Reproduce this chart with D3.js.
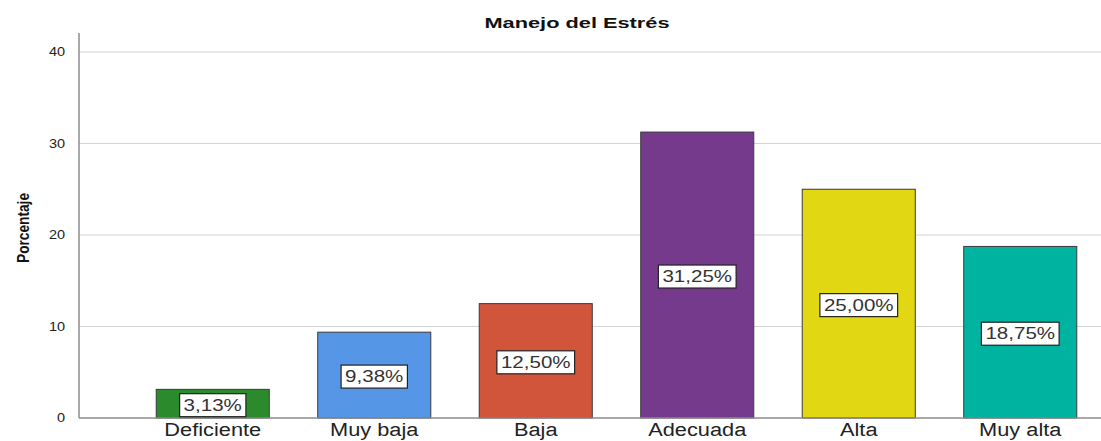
<!DOCTYPE html>
<html>
<head>
<meta charset="utf-8">
<script src="https://cdn.jsdelivr.net/npm/d3@7"></script>
<style>
  body { margin: 0; background: #fff; }
</style>
</head>
<body>
<div id="chart"></div>
<script>
// Data
const categories = ['Deficiente', 'Muy baja', 'Baja', 'Adecuada', 'Alta', 'Muy alta']
const percentages = [3.13, 9.38, 12.50, 31.25, 25.00, 18.75]
const barColors = ['#2b8a2b', '#5596e6', '#d1553a', '#763a8c', '#e1d712', '#00b3a0']
const yTicks = [0, 10, 20, 30, 40]

const width = 1101
const height = 441
const stretch = 1.21   // the original picture is a bit wider than tall

const svg = d3.select('#chart')
              .append('svg')
              .attr('width', width)
              .attr('height', height)

// Scales
const xScale = d3.scaleBand()
                 .domain(categories)
                 .range([132, 1101])
                 .paddingInner(0.3)
                 .paddingOuter(0.15)

const yScale = d3.scaleLinear()
                 .domain([0, 40])
                 .range([418, 52])

const axisX = 79

// helper for horizontally stretched text
function stretchedText(g, x, y) {
  return g.append('text')
          .attr('transform', `translate(${x},${y}) scale(${stretch},1)`)
          .attr('font-family', 'Liberation Sans, Arial, sans-serif')
}

// Grid lines
svg.append('g')
   .selectAll('line')
   .data(yTicks.filter(d => d > 0))
   .join('line')
   .attr('x1', axisX)
   .attr('x2', width)
   .attr('y1', d => yScale(d))
   .attr('y2', d => yScale(d))
   .attr('stroke', '#d4d4d4')
   .attr('stroke-width', 1.2)

// Y axis
const yAxis = d3.axisLeft(yScale)
                .tickValues(yTicks)
                .tickSize(0)
                .tickPadding(9)

const yAxisGroup = svg.append('g')
                      .attr('transform', `translate(${axisX},0)`)
                      .call(yAxis)
yAxisGroup.select('.domain').remove()
yAxisGroup.selectAll('text')
          .attr('font-family', 'Liberation Sans, Arial, sans-serif')
          .attr('font-size', '12px')
          .attr('fill', '#222')
          .attr('transform', `translate(-3,0) scale(${stretch},1)`)

svg.append('line')
   .attr('x1', axisX).attr('x2', axisX)
   .attr('y1', 33).attr('y2', 418)
   .attr('stroke', '#8c8c8c')
   .attr('stroke-width', 1.5)

// Bars
svg.append('g')
   .selectAll('rect')
   .data(percentages)
   .join('rect')
   .attr('x', (d, i) => xScale(categories[i]))
   .attr('y', d => yScale(d))
   .attr('width', xScale.bandwidth())
   .attr('height', d => yScale(0) - yScale(d))
   .attr('fill', (d, i) => barColors[i])
   .attr('stroke', '#3a3a3a')
   .attr('stroke-width', 1)

// Baseline
svg.append('line')
   .attr('x1', axisX).attr('x2', width)
   .attr('y1', yScale(0)).attr('y2', yScale(0))
   .attr('stroke', '#8c8c8c')
   .attr('stroke-width', 1.5)

// Value labels
const fmt = d => d.toFixed(2).replace('.', ',') + '%'
percentages.forEach((d, i) => {
  const cx = xScale(categories[i]) + xScale.bandwidth() / 2
  const cy = (yScale(d) + yScale(0)) / 2 + 1
  const lbl = svg.append('g')
  const t = stretchedText(lbl, cx, cy + 6)
              .attr('text-anchor', 'middle')
              .attr('font-size', '17px')
              .attr('fill', '#333')
              .text(fmt(d))
  const w = t.node().getComputedTextLength() * stretch + 8
  lbl.insert('rect', 'text')
     .attr('x', cx - w / 2)
     .attr('y', cy - 11)
     .attr('width', w)
     .attr('height', 23)
     .attr('fill', '#fff')
     .attr('stroke', '#222')
     .attr('stroke-width', 1.2)
})

// Category labels
categories.forEach(c => {
  stretchedText(svg, xScale(c) + xScale.bandwidth() / 2, 436)
    .attr('text-anchor', 'middle')
    .attr('font-size', '18px')
    .attr('fill', '#222')
    .text(c)
})

// Title
svg.append('text')
   .attr('x', 577)
   .attr('y', 28)
   .attr('text-anchor', 'middle')
   .attr('font-family', 'Liberation Sans, Arial, sans-serif')
   .attr('font-size', '15px')
   .attr('font-weight', 'bold')
   .attr('textLength', 185)
   .attr('lengthAdjust', 'spacingAndGlyphs')
   .attr('fill', '#111')
   .text('Manejo del Estrés')

// Y label
svg.append('text')
   .attr('transform', 'translate(29,228) rotate(-90)')
   .attr('text-anchor', 'middle')
   .attr('font-family', 'Liberation Sans, Arial, sans-serif')
   .attr('font-size', '17px')
   .attr('font-weight', 'bold')
   .attr('textLength', 70)
   .attr('lengthAdjust', 'spacingAndGlyphs')
   .attr('fill', '#111')
   .text('Porcentaje')
</script>
</body>
</html>
